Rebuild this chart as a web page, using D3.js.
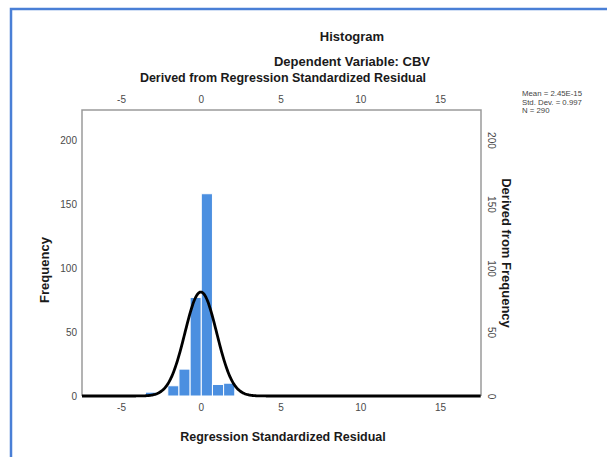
<!DOCTYPE html>
<html>
<head>
<meta charset="utf-8">
<script src="https://cdn.jsdelivr.net/npm/d3@7"></script>
<style>
  body { margin: 0; background: #fff; }
  .tick text { font-family: "Liberation Sans", Arial, sans-serif; font-size: 10px; fill: #4a4a4a; }
  .title { font-family: "Liberation Sans", Arial, sans-serif; font-weight: bold; fill: #1a1a1a; }
  .stats { font-family: "Liberation Sans", Arial, sans-serif; font-size: 7.8px; fill: #444; }
</style>
</head>
<body>
<div id="chart"></div>
<script>
// histogram bins (bin width 0.7)
const binStarts = [-3.47, -2.77, -2.07, -1.37, -0.67, 0.03, 0.73, 1.43];
const binCounts = [3, 0, 8, 21, 77, 158, 9, 10];
const binWidth = 0.7;

const xTicks = [-5, 0, 5, 10, 15];
const yTicks = [0, 50, 100, 150, 200];

// stats printed next to the chart
const statMean = 2.45e-15;
const statSd = 0.997;
const statN = 290;
const statLines = ["Mean = 2.45E-15", "Std. Dev. = 0.997", "N = 290"];

const width = 607, height = 457;
const plot = { left: 82, right: 481, top: 110, bottom: 396 };
const fmt = d => String(d);   // plain hyphen minus, like the original

const svg = d3.select("#chart").append("svg")
    .attr("width", width)
    .attr("height", height);

// blue frame round the picture
svg.append("rect")
    .attr("x", 11).attr("y", 9)
    .attr("width", 700).attr("height", 600)
    .attr("fill", "none")
    .attr("stroke", "#4a7fd6")
    .attr("stroke-width", 2.5);

const x = d3.scaleLinear().domain([-7.45, 17.57]).range([plot.left, plot.right]);
const y = d3.scaleLinear().domain([0, 223.4]).range([plot.bottom, plot.top]);

// frame of the plot
svg.append("path")
    .attr("d", `M${plot.left},${plot.bottom}V${plot.top}H${plot.right}V${plot.bottom}`)
    .attr("fill", "none")
    .attr("stroke", "#9a9a9a")
    .attr("stroke-width", 1.5);

// bars
const bins = binStarts.map((s, i) => ({ x0: s, x1: s + binWidth, n: binCounts[i] }))
    .filter(d => d.n > 0);
svg.selectAll("rect.bar").data(bins).enter().append("rect")
    .attr("class", "bar")
    .attr("x", d => x(d.x0))
    .attr("width", d => x(d.x1) - x(d.x0))
    .attr("y", d => y(d.n))
    .attr("height", d => y(0) - y(d.n))
    .attr("fill", "#4b8fe0")
    .attr("stroke", "#fff")
    .attr("stroke-width", 1);

// normal curve from the printed mean / sd / N
const pdf = v => Math.exp(-0.5 * ((v - statMean) / statSd) ** 2) / (statSd * Math.sqrt(2 * Math.PI));
const curveX = d3.range(x.domain()[0], x.domain()[1] + 0.01, 0.05);
svg.append("path")
    .datum(curveX)
    .attr("d", d3.line().x(d => x(d)).y(d => y(statN * binWidth * pdf(d))).curve(d3.curveBasis))
    .attr("fill", "none")
    .attr("stroke", "#000")
    .attr("stroke-width", 2.8);

// axes
svg.append("g")
    .attr("transform", `translate(0,${plot.bottom})`)
    .call(d3.axisBottom(x).tickValues(xTicks).tickFormat(fmt).tickSize(0).tickPadding(8))
    .call(g => g.select(".domain").remove());

svg.append("g")
    .attr("transform", `translate(0,${plot.top})`)
    .call(d3.axisTop(x).tickValues(xTicks).tickFormat(fmt).tickSize(0).tickPadding(7))
    .call(g => g.select(".domain").remove());

svg.append("g")
    .attr("transform", `translate(${plot.left},0)`)
    .call(d3.axisLeft(y).tickValues(yTicks).tickFormat(fmt).tickSize(0).tickPadding(5))
    .call(g => g.select(".domain").remove());

svg.append("g")
    .attr("transform", `translate(${plot.right},0)`)
    .call(d3.axisRight(y).tickValues(yTicks).tickFormat(fmt).tickSize(0))
    .call(g => g.select(".domain").remove())
    .call(g => g.selectAll(".tick text")
        .attr("x", null).attr("dy", "0.35em")
        .attr("text-anchor", "middle")
        .attr("transform", "translate(10,0) rotate(90)"));

// titles
svg.append("text").attr("class", "title")
    .attr("x", 352).attr("y", 41)
    .attr("text-anchor", "middle").attr("font-size", 13)
    .text("Histogram");

svg.append("text").attr("class", "title")
    .attr("x", 352).attr("y", 66)
    .attr("text-anchor", "middle").attr("font-size", 13)
    .text("Dependent Variable: CBV");

svg.append("text").attr("class", "title")
    .attr("x", 283).attr("y", 82)
    .attr("text-anchor", "middle").attr("font-size", 12.5)
    .text("Derived from Regression Standardized Residual");

svg.append("text").attr("class", "title")
    .attr("x", 283).attr("y", 441)
    .attr("text-anchor", "middle").attr("font-size", 12.5)
    .text("Regression Standardized Residual");

svg.append("text").attr("class", "title")
    .attr("transform", "translate(49,270) rotate(-90)")
    .attr("text-anchor", "middle").attr("font-size", 13)
    .text("Frequency");

svg.append("text").attr("class", "title")
    .attr("transform", "translate(502,253) rotate(90)")
    .attr("text-anchor", "middle").attr("font-size", 13)
    .text("Derived from Frequency");

svg.append("g").selectAll("text").data(statLines).enter().append("text")
    .attr("class", "stats")
    .attr("x", 522)
    .attr("y", (d, i) => 96 + i * 8.6)
    .text(d => d);
</script>
</body>
</html>
